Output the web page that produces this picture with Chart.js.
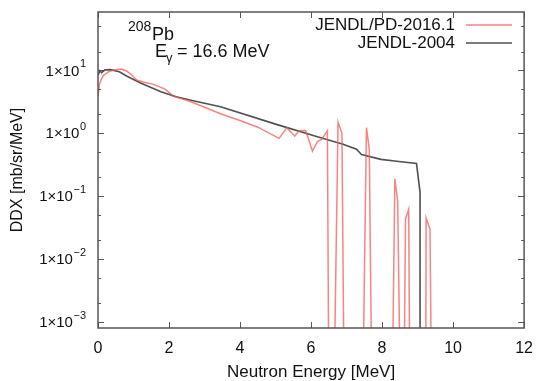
<!DOCTYPE html>
<html>
<head>
<meta charset="utf-8">
<script src="https://cdn.jsdelivr.net/npm/chart.js@4/dist/chart.umd.min.js"></script>
<style>
    html, body { margin: 0; padding: 0; background: #ffffff; }
</style>
</head>
<body>
<canvas id="ddx-chart" width="544" height="381"></canvas>
<script>
// x axis ticks (MeV) and log-axis decades
const xTicks = [0, 2, 4, 6, 8, 10, 12];
const yExponents = [1, 0, -1, -2, -3];
const yMinorFactors = [2, 5];

// JENDL/PD-2016.1 (values below the axis drop out of the frame)
const pdEnergy = [0, 0.05, 0.15, 0.28, 0.45, 0.66, 0.8, 0.94, 1.1, 1.3, 1.57, 1.9, 2.12, 2.6, 3.0, 3.45, 4.0, 4.5, 5.1,
    5.32, 5.54, 5.66, 5.85, 6.04, 6.18, 6.3, 6.46, 6.5, 6.65, 6.76, 6.87, 6.93, 7.46, 7.56, 7.64, 7.71,
    8.29, 8.36, 8.44, 8.51, 8.62, 8.66, 8.75, 8.78, 9.23, 9.24, 9.35, 9.39];
const pdDdx = [3.9, 6.4, 8.3, 9.4, 10.2, 10.5, 9.8, 8.6, 7.0, 6.5, 6.0, 5.0, 3.9, 3.2, 2.6, 2.05, 1.6, 1.25, 0.83,
    1.23, 0.9, 1.1, 1.11, 0.52, 0.74, 0.8, 1.1, 1e-4, 1e-4, 1.5, 1.0, 1e-4, 1e-4, 1.23, 0.56, 1e-4,
    1e-4, 0.19, 0.083, 1e-4, 1e-4, 0.043, 0.062, 1e-4, 1e-4, 0.045, 0.03, 1e-4];

// JENDL-2004
const jendlEnergy = [0, 0.05, 0.1, 0.2, 0.35, 0.6, 0.83, 1.2, 1.77, 2.2, 2.68, 3.45, 5.0, 6.13, 6.9, 7.28, 7.42, 7.97, 8.41, 8.97, 9.07, 9.07];
const jendlDdx = [8.3, 9.9, 9.2, 10.2, 10.3, 9.5, 8.0, 6.3, 4.6, 3.8, 3.3, 2.65, 1.4, 0.9, 0.67, 0.56, 0.46, 0.385, 0.36, 0.33, 0.115, 1e-4];

const seriesLabels = ['JENDL/PD-2016.1', 'JENDL-2004'];
const seriesColors = ['rgba(245, 90, 90, 0.75)', '#505050'];
const seriesWidths = [1.5, 1.6];

function toPoints(xs, ys) {
    return xs.map((v, i) => ({x: v, y: ys[i]}));
}

const frameColor = '#555555';
const fontFamily = '"Liberation Sans", Arial, Helvetica, sans-serif';

const framePlugin = {
    id: 'frame',
    afterDraw(chart) {
        const ctx = chart.ctx;
        const a = chart.chartArea;
        const x = chart.scales.x;
        const y = chart.scales.y;

        ctx.save();
        ctx.strokeStyle = frameColor;
        ctx.lineWidth = 1.5;
        ctx.strokeRect(a.left, a.top, a.right - a.left, a.bottom - a.top);

        // inward ticks on all four sides
        ctx.lineWidth = 1;
        ctx.beginPath();
        xTicks.forEach(function(v) {
            let px = Math.round(x.getPixelForValue(v)) + 0.5;
            ctx.moveTo(px, a.bottom); ctx.lineTo(px, a.bottom - 6);
            ctx.moveTo(px, a.top); ctx.lineTo(px, a.top + 6);
        });
        yExponents.forEach(function(e) {
            let py = Math.round(y.getPixelForValue(Math.pow(10, e))) + 0.5;
            ctx.moveTo(a.left, py); ctx.lineTo(a.left + 6, py);
            ctx.moveTo(a.right, py); ctx.lineTo(a.right - 6, py);
            yMinorFactors.forEach(function(f) {
                let v = f * Math.pow(10, e);
                if (v > y.max) return;
                let pm = Math.round(y.getPixelForValue(v)) + 0.5;
                ctx.moveTo(a.left, pm); ctx.lineTo(a.left + 3, pm);
                ctx.moveTo(a.right, pm); ctx.lineTo(a.right - 3, pm);
            });
        });
        ctx.stroke();

        // y tick labels 1×10^n
        ctx.fillStyle = '#111111';
        ctx.textAlign = 'right';
        ctx.textBaseline = 'middle';
        yExponents.forEach(function(e) {
            let py = y.getPixelForValue(Math.pow(10, e));
            let right = a.left - 12;
            let sup = String(e).replace('-', '\u2212');
            ctx.font = '11px ' + fontFamily;
            let supWidth = ctx.measureText(sup).width;
            ctx.fillText(sup, right, py - 6);
            ctx.font = '15px ' + fontFamily;
            ctx.fillText('1\u00d710', right - supWidth - 0.5, py + 1);
        });

        // legend inside the plot
        ctx.font = '17px ' + fontFamily;
        ctx.textAlign = 'right';
        seriesLabels.forEach(function(label, i) {
            let ly = 25 + i * 18;
            ctx.fillStyle = '#111111';
            ctx.fillText(label, 455, ly);
            ctx.strokeStyle = seriesColors[i];
            ctx.lineWidth = seriesWidths[i];
            ctx.beginPath();
            ctx.moveTo(466, ly);
            ctx.lineTo(512, ly);
            ctx.stroke();
        });

        // target annotation
        ctx.fillStyle = '#111111';
        ctx.textAlign = 'left';
        ctx.textBaseline = 'alphabetic';
        ctx.font = '14px ' + fontFamily;
        ctx.fillText('208', 128, 31);
        ctx.font = '18px ' + fontFamily;
        ctx.fillText('Pb', 152, 40);
        ctx.fillText('E', 155, 57);
        ctx.font = '13px ' + fontFamily;
        ctx.fillText('\u03b3', 166, 62);
        ctx.font = '18px ' + fontFamily;
        ctx.fillText('= 16.6 MeV', 177, 57);
        ctx.restore();
    }
};

new Chart(document.getElementById('ddx-chart'), {
    type: 'line',
    data: {
        datasets: [
            {
                label: seriesLabels[0],
                data: toPoints(pdEnergy, pdDdx),
                borderColor: seriesColors[0],
                borderWidth: seriesWidths[0],
                pointRadius: 0,
                tension: 0
            },
            {
                label: seriesLabels[1],
                data: toPoints(jendlEnergy, jendlDdx),
                borderColor: seriesColors[1],
                borderWidth: seriesWidths[1],
                pointRadius: 0,
                tension: 0
            }
        ]
    },
    options: {
        responsive: false,
        animation: false,
        devicePixelRatio: 1,
        layout: {
            padding: {left: 0, right: 11, top: 12, bottom: 0}
        },
        scales: {
            x: {
                type: 'linear',
                min: 0,
                max: 12,
                grid: {display: false, drawTicks: false},
                border: {display: false},
                afterBuildTicks: function(scale) {
                    scale.ticks = xTicks.map(v => ({value: v}));
                },
                afterFit: function(scale) {
                    scale.height = 53;
                },
                ticks: {
                    color: '#111111',
                    padding: 11,
                    maxRotation: 0,
                    font: {family: fontFamily, size: 16}
                },
                title: {
                    display: true,
                    text: 'Neutron Energy [MeV]',
                    color: '#111111',
                    padding: {top: 0, bottom: -2},
                    font: {family: fontFamily, size: 17}
                }
            },
            y: {
                type: 'logarithmic',
                min: 8e-4,
                max: 85,
                grid: {display: false, drawTicks: false},
                border: {display: false},
                ticks: {display: false},
                afterFit: function(scale) {
                    scale.width = 98;
                },
                title: {
                    display: true,
                    text: 'DDX [mb/sr/MeV]',
                    color: '#111111',
                    padding: {top: 8, bottom: 0},
                    font: {family: fontFamily, size: 16}
                }
            }
        },
        plugins: {
            legend: {display: false},
            tooltip: {enabled: false}
        }
    },
    plugins: [framePlugin]
});
</script>
</body>
</html>
